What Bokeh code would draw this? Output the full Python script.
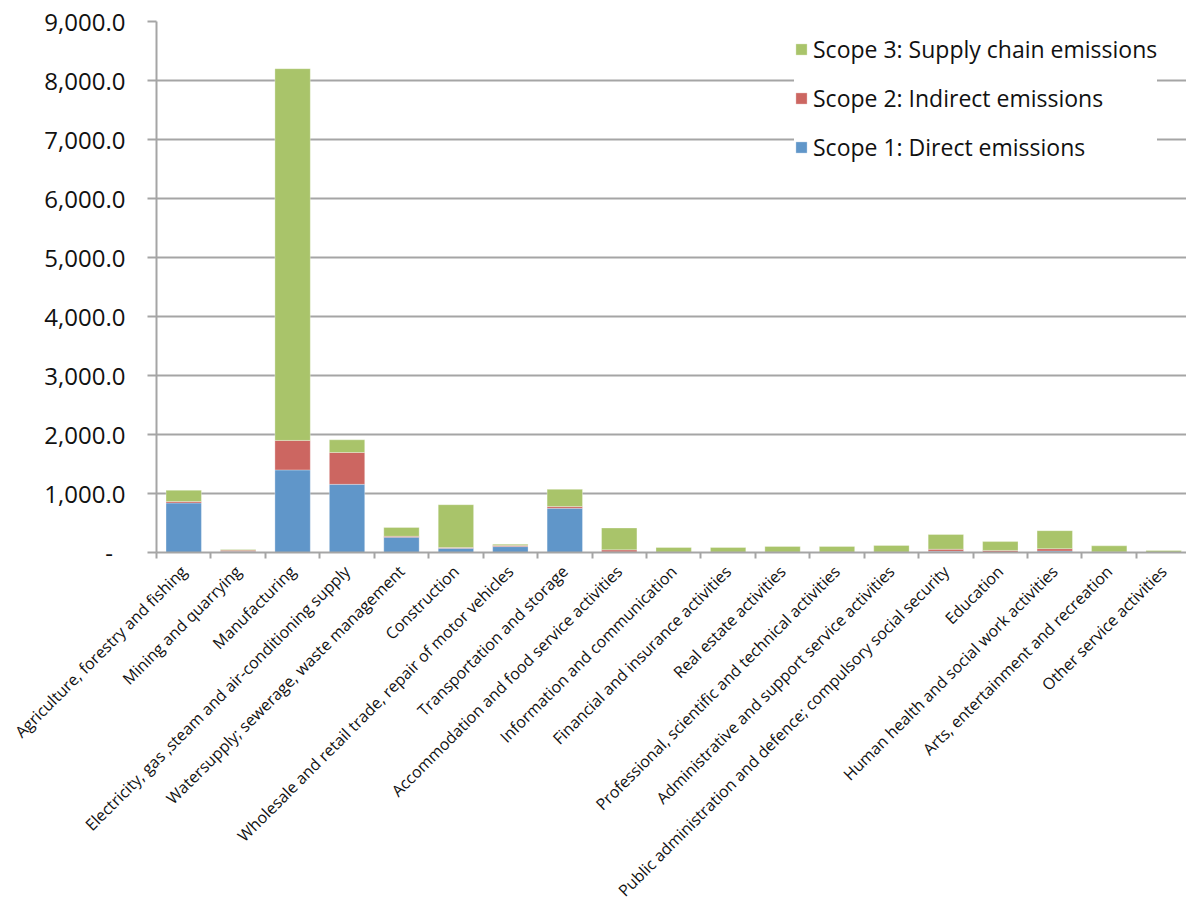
import math

from bokeh.embed import file_html
from bokeh.models import (ColumnDataSource, FixedTicker, Legend, LegendItem,
                          LinearAxis, NumeralTickFormatter, Range1d)
from bokeh.plotting import figure
from bokeh.resources import INLINE

# Emissions by economic activity (stacked by scope)
categories = [
    "Agriculture, forestry and fishing",
    "Mining and quarrying",
    "Manufacturing",
    "Electricity, gas ,steam and air-conditioning supply",
    "Watersupply; sewerage, waste management",
    "Construction",
    "Wholesale and retail trade, repair of motor vehicles",
    "Transportation and storage",
    "Accommodation and food service activities",
    "Information and communication",
    "Financial and insurance activities",
    "Real estate activities",
    "Professional, scientific and technical activities",
    "Administrative and support service activities",
    "Public administration and defence; compulsory social security",
    "Education",
    "Human health and social work activities",
    "Arts, entertainment and recreation",
    "Other service activities",
]
scope1_direct = [840, 18, 1400, 1155, 260, 70, 100, 750, 10, 2, 2, 2, 3, 3, 20, 5, 25, 5, 2]
scope2_indirect = [25, 22, 500, 540, 15, 15, 20, 30, 35, 3, 3, 3, 3, 3, 35, 30, 40, 5, 2]
scope3_supply = [190, 10, 6300, 215, 150, 725, 20, 290, 370, 80, 80, 97, 96, 113, 250, 150, 305, 103, 30]
y_ticks = [0, 1000, 2000, 3000, 4000, 5000, 6000, 7000, 8000, 9000]

series_labels = ["Scope 1: Direct emissions", "Scope 2: Indirect emissions",
                 "Scope 3: Supply chain emissions"]
colors = ["#6096C9", "#CC6661", "#A9C46A"]

FONT = "Open Sans"
GRID = "#A5A5A5"

centers = [i + 0.5 for i in range(len(categories))]
boundaries = list(range(len(categories) + 1))

source = ColumnDataSource(dict(x=centers, s1=scope1_direct, s2=scope2_indirect, s3=scope3_supply))

p = figure(width=1186, height=911, output_backend="svg", toolbar_location=None,
           x_range=Range1d(0, 18.92), y_range=Range1d(0, 9000),
           x_axis_type=None,
           min_border_left=156, min_border_right=0, min_border_top=21,
           min_border_bottom=358)
p.outline_line_color = None
p.background_fill_color = "white"
p.border_fill_color = "white"

renderers = p.vbar_stack(["s1", "s2", "s3"], x="x", width=0.65, color=colors,
                         line_color="white", line_alpha=0.3, line_width=1,
                         source=source)

# y axis
yax = p.yaxis[0]
yax.ticker = FixedTicker(ticks=y_ticks)
yax.formatter = NumeralTickFormatter(format="0,0.0")
yax.major_label_overrides = {0: "-\u00a0\u00a0"}
yax.axis_line_color = GRID
yax.axis_line_width = 2
yax.major_tick_line_color = GRID
yax.major_tick_line_width = 2
yax.major_tick_out = 9
yax.major_tick_in = 0
yax.minor_tick_line_color = None
yax.major_label_standoff = 22
yax.major_label_text_font = FONT
yax.major_label_text_font_size = "24px"
yax.major_label_text_color = "#111111"

p.ygrid.ticker = FixedTicker(ticks=y_ticks)
p.ygrid.grid_line_color = GRID
p.ygrid.grid_line_width = 2
p.xgrid.grid_line_color = None

# x axis: category names at bar centres, tick marks between categories
xax = LinearAxis(ticker=FixedTicker(ticks=centers, minor_ticks=boundaries),
                 major_label_overrides={c: n for c, n in zip(centers, categories)},
                 major_label_orientation=math.pi / 4,
                 major_label_standoff=10,
                 major_label_text_font=FONT,
                 major_label_text_font_size="16px",
                 major_label_text_line_height=1.0,
                 major_label_text_color="#111111",
                 axis_line_color=GRID, axis_line_width=2,
                 major_tick_line_color=None, major_tick_out=0, major_tick_in=0,
                 minor_tick_line_color=GRID, minor_tick_line_width=2,
                 minor_tick_out=6, minor_tick_in=0)
p.add_layout(xax, "below")

legend = Legend(items=[LegendItem(label=series_labels[k], renderers=[renderers[k]])
                       for k in (2, 1, 0)],
                location=(638, 389), margin=0, padding=12,
                glyph_width=14, glyph_height=14, label_standoff=5,
                label_height=33, spacing=16,
                label_text_font=FONT, label_text_font_size="23px",
                label_text_color="#111111",
                border_line_color=None, background_fill_color="white",
                background_fill_alpha=1.0)
p.add_layout(legend)

open("out.html", "w").write(file_html(p, INLINE))
